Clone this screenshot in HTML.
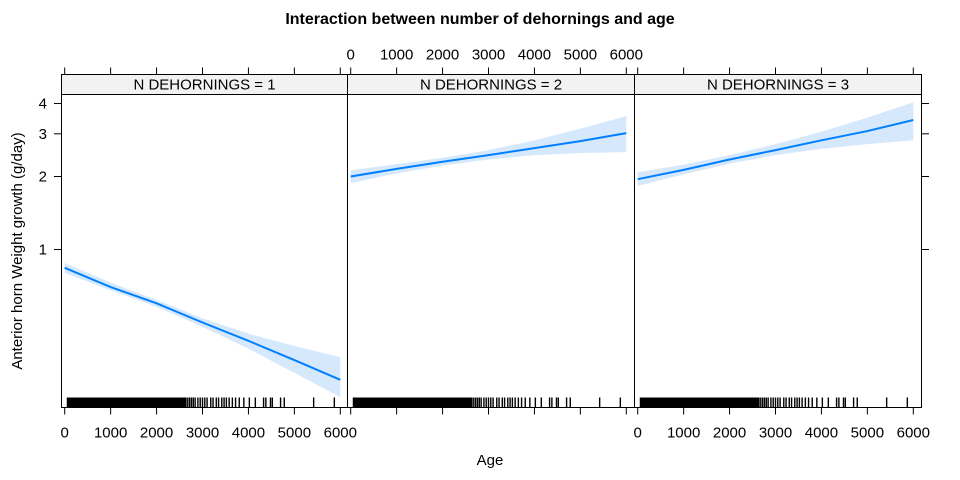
<!DOCTYPE html>
<html><head><meta charset="utf-8"><style>
body{margin:0;background:#fff}
svg{display:block;font-family:"Liberation Sans",Arial,sans-serif}
</style></head><body>
<svg id="chart" width="960" height="480" viewBox="0 0 960 480">
<text x="480" y="24" text-anchor="middle" font-size="16" font-weight="bold">Interaction between number of dehornings and age</text>
<text x="490" y="465" text-anchor="middle" font-size="15">Age</text>
<text transform="translate(22,251) rotate(-90)" text-anchor="middle" font-size="15">Anterior horn Weight growth (g/day)</text>
<g id="panels"></g>
</svg>
<script>
const panelLabels = ["N  DEHORNINGS = 1","N  DEHORNINGS = 2","N  DEHORNINGS = 3"];
const ages = [0,1000,2000,3000,4000,5000,6000];
const fit1 = [0.84,0.70,0.60,0.50,0.42,0.35,0.29];
const lo1 = [0.80,0.68,0.58,0.48,0.39,0.31,0.246];
const hi1 = [0.88,0.73,0.62,0.52,0.45,0.40,0.36];
const fit2 = [2.0,2.15,2.3,2.45,2.62,2.8,3.02];
const lo2 = [1.88,2.06,2.22,2.35,2.45,2.5,2.52];
const hi2 = [2.12,2.25,2.39,2.57,2.82,3.15,3.55];
const fit3 = [1.95,2.13,2.35,2.57,2.82,3.08,3.42];
const lo3 = [1.83,2.04,2.26,2.45,2.6,2.72,2.82];
const hi3 = [2.08,2.24,2.45,2.72,3.06,3.5,4.05];
const xTicks = [0,1000,2000,3000,4000,5000,6000];
const yTicks = [1,2,3,4];
const rugAges = [60,90,120,150,180,210,240,270,300,330,360,390,420,450,480,510,540,570,600,630,660,690,720,750,780,810,840,870,900,930,960,990,1020,1050,1080,1110,1140,1170,1200,1230,1260,1290,1320,1350,1380,1410,1440,1470,1500,1530,1560,1590,1620,1650,1680,1710,1740,1770,1800,1830,1860,1890,1920,1950,1980,2010,2040,2070,2100,2130,2160,2190,2220,2250,2280,2310,2340,2370,2400,2430,2460,2490,2520,2550,2580,2610,2640,2680,2720,2760,2800,2840,2900,2950,3000,3050,3100,3180,3230,3300,3350,3420,3470,3520,3580,3650,3720,3800,3900,4020,4150,4330,4380,4480,4520,4700,4780,5420,5870];
const fits=[fit1,fit2,fit3], los=[lo1,lo2,lo3], his=[hi1,hi2,hi3];
const NS="http://www.w3.org/2000/svg";
const g=document.getElementById('panels');
const lefts=[61.5,347.5,634.5], pws=[286,287,287], plotTop=74.5, stripH=20, plotBottom=407.5;
function sx(p,a){return lefts[p]+3.2+a*275.6/6000;}
function sy(v){return 249.5-105.3*Math.log(v);}
function mk(tag,attrs,parent){const e=document.createElementNS(NS,tag);for(const k in attrs)e.setAttribute(k,attrs[k]);(parent||g).appendChild(e);return e;}
for(let p=0;p<3;p++){
  const L=lefts[p], pw=pws[p];
  const pg=mk('g',{});
  
  
  const strip=mk('rect',{x:L,y:plotTop,width:pw,height:stripH,fill:'#f2f2f2',stroke:'#000'},pg);
  
  
  const st=mk('text',{x:L+pw/2,y:plotTop+15,'text-anchor':'middle','font-size':15},pg);
  st.textContent=panelLabels[p];
  
  
  let d='';
  ages.forEach((a,i)=>{d+=(i?'L':'M')+sx(p,a)+','+sy(his[p][i]);});
  for(let i=ages.length-1;i>=0;i--)d+='L'+sx(p,ages[i])+','+sy(los[p][i]);
  const band=mk('path',{d:d+'Z',fill:'#d6e8fb'},pg);
  
  
  let ld='';
  ages.forEach((a,i)=>{ld+=(i?'L':'M')+sx(p,a)+','+sy(fits[p][i]);});
  const line=mk('path',{d:ld,fill:'none',stroke:'#0080ff','stroke-width':2},pg);
  
  
  let rd='';
  rugAges.forEach(a=>{rd+='M'+sx(p,a)+','+(plotBottom-10)+'V'+plotBottom;});
  const rug=mk('path',{d:rd,stroke:'#000','stroke-width':1.4},pg);
  
  
  const frame=mk('rect',{x:L,y:plotTop+stripH,width:pw,height:plotBottom-plotTop-stripH,fill:'none',stroke:'#000'},pg);
  
  
  xTicks.forEach(t=>{
    const x=sx(p,t);
    const tb=mk('line',{x1:x,x2:x,y1:plotBottom,y2:plotBottom+7,stroke:'#000'},pg);
    
    
    const tt=mk('line',{x1:x,x2:x,y1:plotTop,y2:plotTop-7,stroke:'#000'},pg);
    
    
    if(p!==1){
      const lb=mk('text',{x:x,y:plotBottom+30,'text-anchor':'middle','font-size':15},pg);
      lb.textContent=t;
      
      
    } else {
      const lb=mk('text',{x:x,y:plotTop-15,'text-anchor':'middle','font-size':15},pg);
      lb.textContent=t;
      
      
    }
  });
}
yTicks.forEach(v=>{
  const y=sy(v);
  const t1=mk('line',{x1:61.5,x2:54,y1:y,y2:y,stroke:'#000'});
  
  
  const t2=mk('line',{x1:921.5,x2:929,y1:y,y2:y,stroke:'#000'});
  
  
  const lb=mk('text',{x:47,y:y+5,'text-anchor':'end','font-size':15});
  lb.textContent=v;
  
  
});
</script>
</body></html>
